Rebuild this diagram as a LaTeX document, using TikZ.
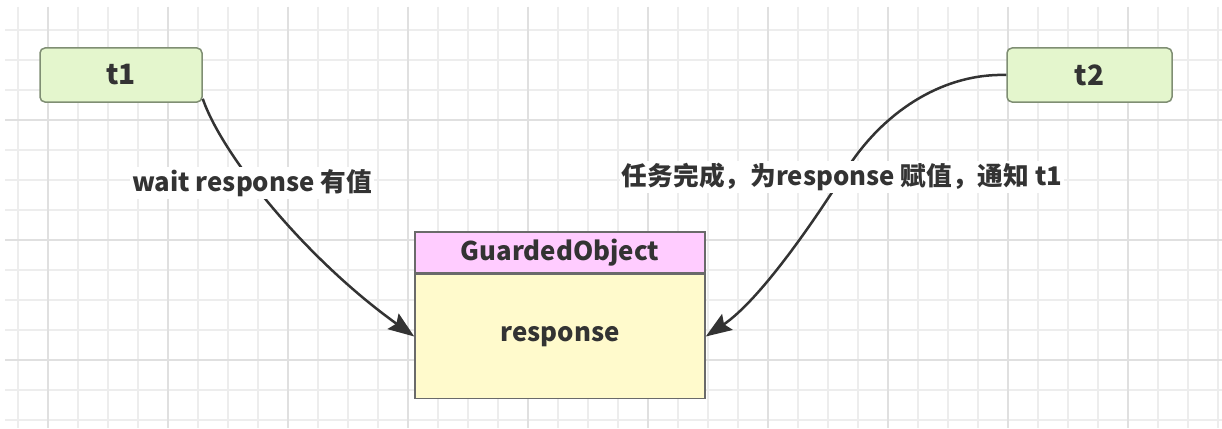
\documentclass[tikz,border=0pt]{standalone}
\usepackage{fontspec}
\setmainfont{Noto Sans CJK SC}
\usetikzlibrary{arrows.meta}
\definecolor{gridlight}{HTML}{EDEDED}
\definecolor{griddark}{HTML}{E0E0E0}
\definecolor{tfill}{HTML}{E4F6CD}
\definecolor{tborder}{HTML}{7F8E73}
\definecolor{hdrfill}{HTML}{FFCCFF}
\definecolor{bodyfill}{HTML}{FFFACC}
\definecolor{objborder}{HTML}{6A6A6A}
\definecolor{ink}{HTML}{333333}
\tikzset{
  tbox/.style={draw=tborder, line width=1.5pt, fill=tfill, rounded corners=5pt,
    minimum height=54pt, inner sep=0pt, font=\bfseries\fontsize{28}{32}\selectfont, text=ink},
  objpart/.style={draw=objborder, line width=1.5pt, minimum width=290pt, inner sep=0pt,
    font=\bfseries\fontsize{25.8}{30}\selectfont, text=ink},
  lbl/.style={fill=white, inner sep=2pt, font=\bfseries\fontsize{25.7}{30}\selectfont, text=ink},
  conn/.style={draw=ink, line width=2.5pt,
    -{Stealth[length=26pt,width=19pt,inset=4pt]}}
}
\begin{document}
\begin{tikzpicture}[x=1pt,y=-1pt]
\useasboundingbox (0,0) rectangle (1222,428);
\fill[white] (0,0) rectangle (1222,428);
% grid
\foreach \k in {0,...,40} {
  \pgfmathsetmacro{\xx}{18+30*\k}
  \draw[gridlight, line width=1.3pt] (\xx,7) -- (\xx,428);
}
\foreach \k in {0,...,13} {
  \pgfmathsetmacro{\yy}{30+30*\k}
  \draw[gridlight, line width=1.3pt] (5,\yy) -- (1222,\yy);
}
\foreach \k in {0,...,9} {
  \pgfmathsetmacro{\xx}{48+120*\k}
  \draw[griddark, line width=1.5pt] (\xx,7) -- (\xx,428);
}
\foreach \yy in {120,240,360} {
  \draw[griddark, line width=1.5pt] (5,\yy) -- (1222,\yy);
}
% nodes
\node[tbox, minimum width=162pt] (t1) at (121,75) {t1};
\node[tbox, minimum width=165pt] (t2) at (1089.5,75) {t2};
\node[objpart, fill=hdrfill, minimum height=41pt] (hdr) at (560,252.5) {GuardedObject};
\node[objpart, fill=bodyfill, minimum height=124pt, anchor=north] (body) at (hdr.south) {response};
% connectors
\draw[conn] ([yshift=4pt]t1.south east) .. controls (222,155) and (305,258) .. (body.west);
\draw[conn] (t2.west) .. controls (940,73) and (880,115) .. (845,172)
  .. controls (815,220) and (760,300) .. (body.east);
% labels
\node[lbl] (l1) at (252,183) {wait response 有值};
\node[lbl] (l2) at (842,177) {任务完成，为response 赋值，通知 t1};
\end{tikzpicture}
\end{document}
